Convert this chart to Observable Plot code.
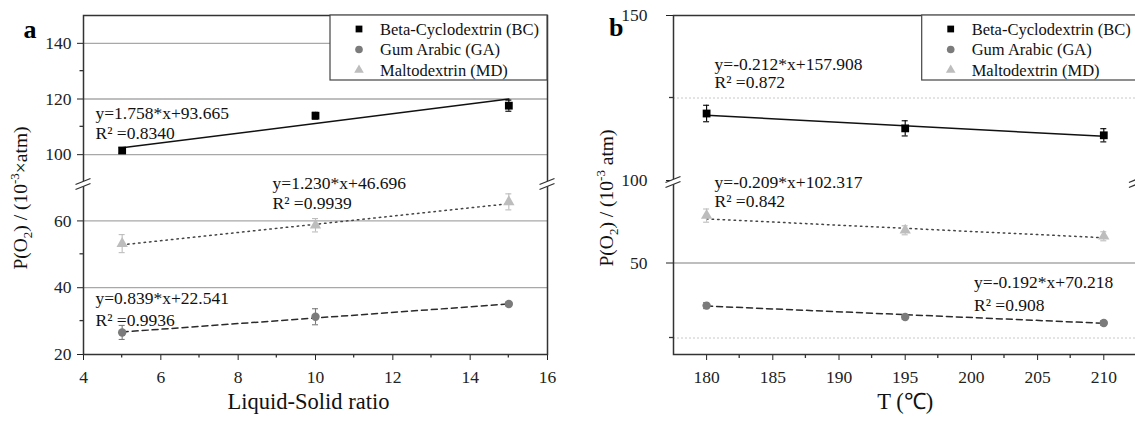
<!DOCTYPE html>
<html><head><meta charset="utf-8">
<script src="https://cdn.jsdelivr.net/npm/d3@7"></script>
<script src="https://cdn.jsdelivr.net/npm/@observablehq/plot@0.6"></script>
<style>
body{margin:0;background:#fff;}
#wrap{display:flex;width:1135px;height:421px;overflow:hidden;background:#fff;}
#wrap > svg{flex:none;display:block;}
#wrap svg text{font-family:'Liberation Serif','Times New Roman',serif;}
</style></head><body><div id="wrap"></div>
<script>
// ---- shared series ----
const seriesNames = ["Beta-Cyclodextrin (BC)", "Gum Arabic (GA)", "Maltodextrin (MD)"];
const seriesColors = ["#000000", "#7b7b7b", "#bdbdbd"];
const seriesSymbols = ["square", "circle", "triangle"];
const fitDash = [null, "6,4", "1.5,4"];
const fitColors = ["#111111", "#2a2a2a", "#444444"];

// ---- panel a: Liquid-Solid ratio ----
const ratioX = [5, 10, 15];
const ratioTicks = [4, 6, 8, 10, 12, 14, 16];
const ratioMinor = [5, 7, 9, 11, 13, 15];
const aBC = [101.5, 114.0, 117.6];
const aGA = [26.6, 31.3, 35.1];
const aMD = [53.2, 58.7, 65.7];
const aBCerr = [1.0, 1.2, 2.0];
const aGAerr = [2.1, 2.4, 0.6];
const aMDerr = [2.7, 2.0, 2.4];
const aSlope = [1.758, 0.839, 1.230];
const aIntercept = [93.665, 22.541, 46.696];
const aEquations = ["y=1.758*x+93.665", "y=0.839*x+22.541", "y=1.230*x+46.696"];
const aR2 = ["R\u00b2 =0.8340", "R\u00b2 =0.9936", "R\u00b2 =0.9939"];
const aEqX = [4.31, 4.31, 8.89];
const aEqY = [114.8, 36.8, 71.2];
const aR2Y = [107.6, 30.2, 65.2];
const aYTicks = [20, 40, 60, 100, 120, 140];
const aYMinor = [30, 50, 110, 130];
const aGrid = [40, 60, 100, 120, 140];

// ---- panel b: temperature ----
const tempX = [180, 195, 210];
const tempTicks = [180, 185, 190, 195, 200, 205, 210];
const tempMinor = [182.5, 187.5, 192.5, 197.5, 202.5, 207.5];
const bBC = [120.3, 115.8, 113.7];
const bGA = [35.8, 32.0, 30.0];
const bMD = [65.8, 60.9, 58.9];
const bBCerr = [2.5, 2.3, 2.0];
const bGAerr = [1.0, 0.8, 0.8];
const bMDerr = [2.2, 1.5, 1.5];
const bSlope = [-0.212, -0.192, -0.209];
const bIntercept = [157.908, 70.218, 102.317];
const bEquations = ["y=-0.212*x+157.908", "y=-0.192*x+70.218", "y=-0.209*x+102.317"];
const bR2 = ["R\u00b2 =0.872", "R\u00b2 =0.908", "R\u00b2 =0.842"];
const bEqX = [180.6, 200.2, 180.6];
const bEqY = [135.2, 43.7, 76.73];
const bR2Y = [129.6, 36.0, 70.57];
const bYTicks = [50, 100, 150];
const bYMinor = [25, 125];
const bGridSolid = [50];
const bGridDotted = [25, 125];

const FONT = "'Liberation Serif', 'Times New Roman', serif";
const TICK_FONT = "17.5px";
const d3Symbols = [d3.symbolSquare, d3.symbolCircle, d3.symbolTriangle];

function minorTicksMark(xMinor, yMinor, len) {
  return (index, scales, values, dims) => {
    const g = d3.create("svg:g").attr("stroke", "#333").attr("stroke-width", 1.3);
    const bottom = dims.height - dims.marginBottom;
    const left = dims.marginLeft;
    for (const v of xMinor) {
      const x = scales.x(v);
      g.append("line").attr("x1", x).attr("x2", x).attr("y1", bottom).attr("y2", bottom + len);
    }
    for (const v of yMinor) {
      const y = scales.y(v);
      g.append("line").attr("x1", left - len).attr("x2", left).attr("y1", y).attr("y2", y);
    }
    return g.node();
  };
}

function breakMark(breakValue) {
  return (index, scales, values, dims) => {
    const g = d3.create("svg:g");
    const y = scales.y(breakValue) + 2;
    const xs = [dims.marginLeft, dims.width - dims.marginRight];
    for (const x of xs) {
      g.append("path")
        .attr("d", `M${x - 7},${y + 0.5} L${x + 7},${y - 5.5} L${x + 7},${y - 0.5} L${x - 7},${y + 5.5} Z`)
        .attr("fill", "#fff");
      for (const o of [-2.5, 2.5]) {
        g.append("line")
          .attr("x1", x - 7.5).attr("y1", y + o + 3)
          .attr("x2", x + 7.5).attr("y2", y + o - 3)
          .attr("stroke", "#333").attr("stroke-width", 1.3);
      }
    }
    return g.node();
  };
}

function legendMark(left, height) {
  return (index, scales, values, dims) => {
    const g = d3.create("svg:g");
    const right = dims.width - dims.marginRight;
    const y0 = dims.marginTop;
    g.append("rect").attr("x", left).attr("y", y0).attr("width", right - left).attr("height", height)
      .attr("fill", "#fff").attr("stroke", "#444").attr("stroke-width", 1.2);
    seriesNames.forEach((name, i) => {
      const cy = y0 + 14 + i * 20.5;
      g.append("path").attr("transform", `translate(${left + 29},${cy})`)
        .attr("d", d3.symbol(d3Symbols[i], i === 2 ? 40 : 46)())
        .attr("fill", seriesColors[i]);
      g.append("text").attr("x", left + 50).attr("y", cy).attr("dy", "0.35em")
        .attr("text-anchor", "start")
        .attr("font-size", 16.5).attr("fill", "#111").text(name);
    });
    return g.node();
  };
}

function yLabelMark(cx, cy, unit) {
  return () => {
    const t = d3.create("svg:text")
      .attr("transform", `translate(${cx},${cy}) rotate(-90)`)
      .attr("text-anchor", "middle").attr("dy", "0.35em")
      .attr("font-size", 19.5).attr("fill", "#111");
    t.append("tspan").text("P(O");
    t.append("tspan").attr("font-size", 13).attr("dy", 5).text("2");
    t.append("tspan").attr("dy", -5).text(") / (10");
    t.append("tspan").attr("font-size", 13).attr("dy", -8).text("-3");
    t.append("tspan").attr("dy", 8).text(unit);
    return t.node();
  };
}

function makePanel(p) {
  const marks = [];
  marks.push(Plot.ruleY(p.grid, {stroke: "#a8a8a8", strokeWidth: 1.3}));
  if (p.gridDotted) marks.push(Plot.ruleY(p.gridDotted, {stroke: "#c8c8c8", strokeWidth: 1, strokeDasharray: "2,2"}));
  p.slopes.forEach((m, i) => {
    const xa = p.xs[0], xb = p.xs[p.xs.length - 1];
    const pts = [{x: xa, y: m * xa + p.intercepts[i]}, {x: xb, y: m * xb + p.intercepts[i]}];
    marks.push(Plot.line(pts, {x: "x", y: "y", stroke: fitColors[i], strokeWidth: 1.5, strokeDasharray: fitDash[i]}));
  });
  p.ys.forEach((ys, i) => {
    const rows = ys.map((y, j) => ({x: p.xs[j], y, e: p.errs[i][j]}));
    const col = seriesColors[i];
    marks.push(Plot.ruleX(rows, {x: "x", y1: d => d.y - d.e, y2: d => d.y + d.e, stroke: col, strokeWidth: 1.1}));
    marks.push(Plot.ruleY(rows, {y: d => d.y + d.e, x1: "x", x2: "x", insetLeft: -3, insetRight: -3, stroke: col, strokeWidth: 1.1}));
    marks.push(Plot.ruleY(rows, {y: d => d.y - d.e, x1: "x", x2: "x", insetLeft: -3, insetRight: -3, stroke: col, strokeWidth: 1.1}));
    marks.push(Plot.dot(rows, {x: "x", y: "y", symbol: seriesSymbols[i], fill: col, stroke: "none", r: i === 0 ? 4.4 : 4.2}));
  });
  const ann = [];
  p.eqs.forEach((t, i) => {
    ann.push({x: p.eqX[i], y: p.eqY[i], t});
    ann.push({x: p.eqX[i], y: p.r2Y[i], t: p.r2[i]});
  });
  marks.push(Plot.text(ann, {x: "x", y: "y", text: "t", textAnchor: "start", fontSize: 17.5, fill: "#111"}));
  marks.push(Plot.frame({stroke: "#333", strokeWidth: 1.5}));
  marks.push(breakMark(p.breakValue));
  marks.push(minorTicksMark(p.xMinor, p.yMinor, p.minorLen));
  marks.push(legendMark(p.legendLeft, 65));
  marks.push(yLabelMark(p.yLabelX, 198, p.unit));
  marks.push(Plot.text([p.xLabel], {text: d => d, frameAnchor: "bottom", dx: p.xLabelDx, dy: 54, fontSize: 22.5, fill: "#111"}));
  marks.push(Plot.text([p.tag], {text: d => d, frameAnchor: "top-left", dx: p.tagDx, dy: p.tagDy, fontSize: 26, fontWeight: "bold", fill: "#000"}));

  return Plot.plot({
    width: p.width, height: 421,
    marginLeft: p.marginLeft, marginRight: p.marginRight, marginTop: 15, marginBottom: 67,
    style: {fontFamily: FONT, fontSize: "17.5px", color: "#222", background: "#fff", overflow: "visible"},
    x: {domain: p.xDomain, range: p.xRange, ticks: p.xTicks, tickSize: 6, tickPadding: 10, label: null, tickFormat: d => String(d)},
    y: {type: "linear", domain: p.yDomain, range: p.yRange, ticks: p.yTicks, tickSize: p.yTickSize, tickPadding: p.yTickPadding, label: null, tickFormat: d => String(d)},
    marks
  });
}

const wrap = document.getElementById("wrap");
wrap.appendChild(makePanel({
  width: 560, marginLeft: 83, marginRight: 13,
  xDomain: [4, 16], xRange: [83, 547], xTicks: ratioTicks, xMinor: ratioMinor,
  yDomain: [20, 71.5, 90, 150], yRange: [354, 182, 182, 15], yTicks: aYTicks, yMinor: aYMinor,
  yTickSize: 6, yTickPadding: 6, minorLen: 3.5,
  grid: aGrid, breakValue: 90,
  xs: ratioX, ys: [aBC, aGA, aMD], errs: [aBCerr, aGAerr, aMDerr],
  slopes: aSlope, intercepts: aIntercept,
  eqs: aEquations, r2: aR2, eqX: aEqX, eqY: aEqY, r2Y: aR2Y,
  legendLeft: 330, yLabelX: 20, unit: "\u00d7atm)",
  xLabel: "Liquid-Solid ratio", xLabelDx: -7, tag: "a", tagDx: -60, tagDy: 4
}));
wrap.appendChild(makePanel({
  width: 578, marginLeft: 113, marginRight: 1.6,
  xDomain: [177.5, 212.5], xRange: [113, 576.4], xTicks: tempTicks, xMinor: tempMinor,
  yDomain: [19.5, 77.5, 100, 150], yRange: [354, 180, 180, 15], yTicks: bYTicks, yMinor: bYMinor,
  yTickSize: 7, yTickPadding: 19, minorLen: 4,
  grid: bGridSolid, gridDotted: bGridDotted, breakValue: 100,
  xs: tempX, ys: [bBC, bGA, bMD], errs: [bBCerr, bGAerr, bMDerr],
  slopes: bSlope, intercepts: bIntercept,
  eqs: bEquations, r2: bR2, eqX: bEqX, eqY: bEqY, r2Y: bR2Y,
  legendLeft: 361.7, yLabelX: 46, unit: " atm)",
  xLabel: "T (\u2103)", xLabelDx: 0, tag: "b", tagDx: -64.5, tagDy: 2
}));

// enlarge the axis tick labels (Plot draws them at a small default size)
for (const t of wrap.querySelectorAll("svg text")) {
  if (parseFloat(getComputedStyle(t).fontSize) < 16) {
    t.style.fontSize = TICK_FONT;
    t.setAttribute("fill", "#222");
  }
}
</script></body></html>
